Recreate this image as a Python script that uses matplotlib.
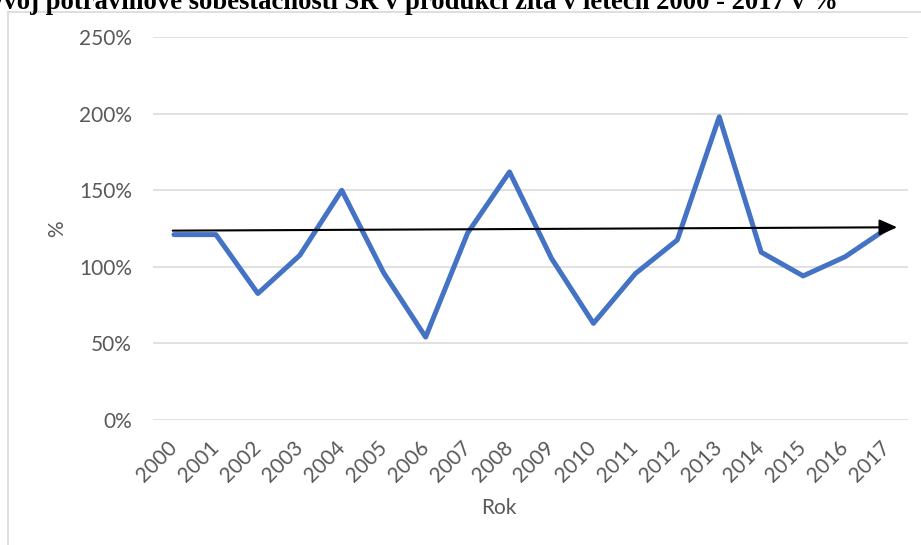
import matplotlib
matplotlib.use("Agg")
import matplotlib.pyplot as plt
from matplotlib.lines import Line2D
from matplotlib.ticker import FuncFormatter

# Rye production self-sufficiency of Slovakia, 2000-2017 (%)
years = ["2000", "2001", "2002", "2003", "2004", "2005", "2006", "2007", "2008",
         "2009", "2010", "2011", "2012", "2013", "2014", "2015", "2016", "2017"]
self_sufficiency = [121, 121, 82.5, 107.5, 150, 96, 54, 122, 162,
                    105.5, 63, 95.5, 117.5, 198, 109.5, 94, 106.5, 125]
# hand-drawn trend arrow (category position, value)
trend_x = [-0.03, 17.24]
trend_y = [123.6, 125.8]
y_ticks = [0, 50, 100, 150, 200, 250]

title = "Vývoj potravinové soběstačnosti SR v produkci žita v letech 2000 - 2017 v %"

W, H = 921, 545
fig = plt.figure(figsize=(W / 100, H / 100), dpi=100)
fig.patch.set_facecolor("white")

grey_txt = "#595959"
font = ["Lato", "DejaVu Sans"]

# chart-area frame
frame_kw = dict(color="#D9D9D9", lw=1.2, transform=fig.transFigure)
fig.add_artist(Line2D([7.5 / W, 7.5 / W], [0, 1 - 12 / H], **frame_kw))
fig.add_artist(Line2D([7.5 / W, 1], [1 - 12 / H, 1 - 12 / H], **frame_kw))

ax = fig.add_axes([153 / W, 125.3 / H, 755 / W, 382.4 / H])
x = list(range(len(years)))

ax.plot(x, self_sufficiency, color="#4472C4", lw=3.6,
        solid_joinstyle="round", solid_capstyle="round", zorder=3)

ax.annotate("", xy=(trend_x[1], trend_y[1]), xytext=(trend_x[0], trend_y[0]),
            arrowprops=dict(arrowstyle="-|>,head_length=0.6,head_width=0.27",
                            color="black", lw=1.5, mutation_scale=18,
                            shrinkA=0, shrinkB=0), zorder=4)

ax.set_xlim(-0.5, len(years) - 0.5)
ax.set_ylim(0, 250)
ax.set_yticks(y_ticks)
ax.yaxis.set_major_formatter(FuncFormatter(lambda v, p: f"{v:.0f}%"))
ax.grid(axis="y", color="#D9D9D9", lw=1.1)
ax.set_axisbelow(True)
for s in ax.spines.values():
    s.set_visible(False)

ax.set_xticks(x)
ax.set_xticklabels(years, rotation=45, ha="right", va="center",
                   rotation_mode="anchor")
ax.tick_params(axis="both", length=0, colors=grey_txt, labelsize=15)
ax.tick_params(axis="x", pad=18)
ax.tick_params(axis="y", pad=15)
for lab in ax.get_xticklabels() + ax.get_yticklabels():
    lab.set_family(font)

ax.set_xlabel("Rok", color=grey_txt, fontsize=15, family=font, va="center")
ax.xaxis.set_label_coords(0.458, -0.231)
ax.set_ylabel("%", color=grey_txt, fontsize=15, family=font, va="center")
ax.yaxis.set_label_coords(-0.127, 0.5)

fig.text(838 / W, 1 - 9 / H, title, ha="right", va="baseline",
         fontsize=19.2, fontweight="bold", family=["Liberation Serif", "DejaVu Serif"],
         color="black")

fig.savefig("out.png", dpi=100)
